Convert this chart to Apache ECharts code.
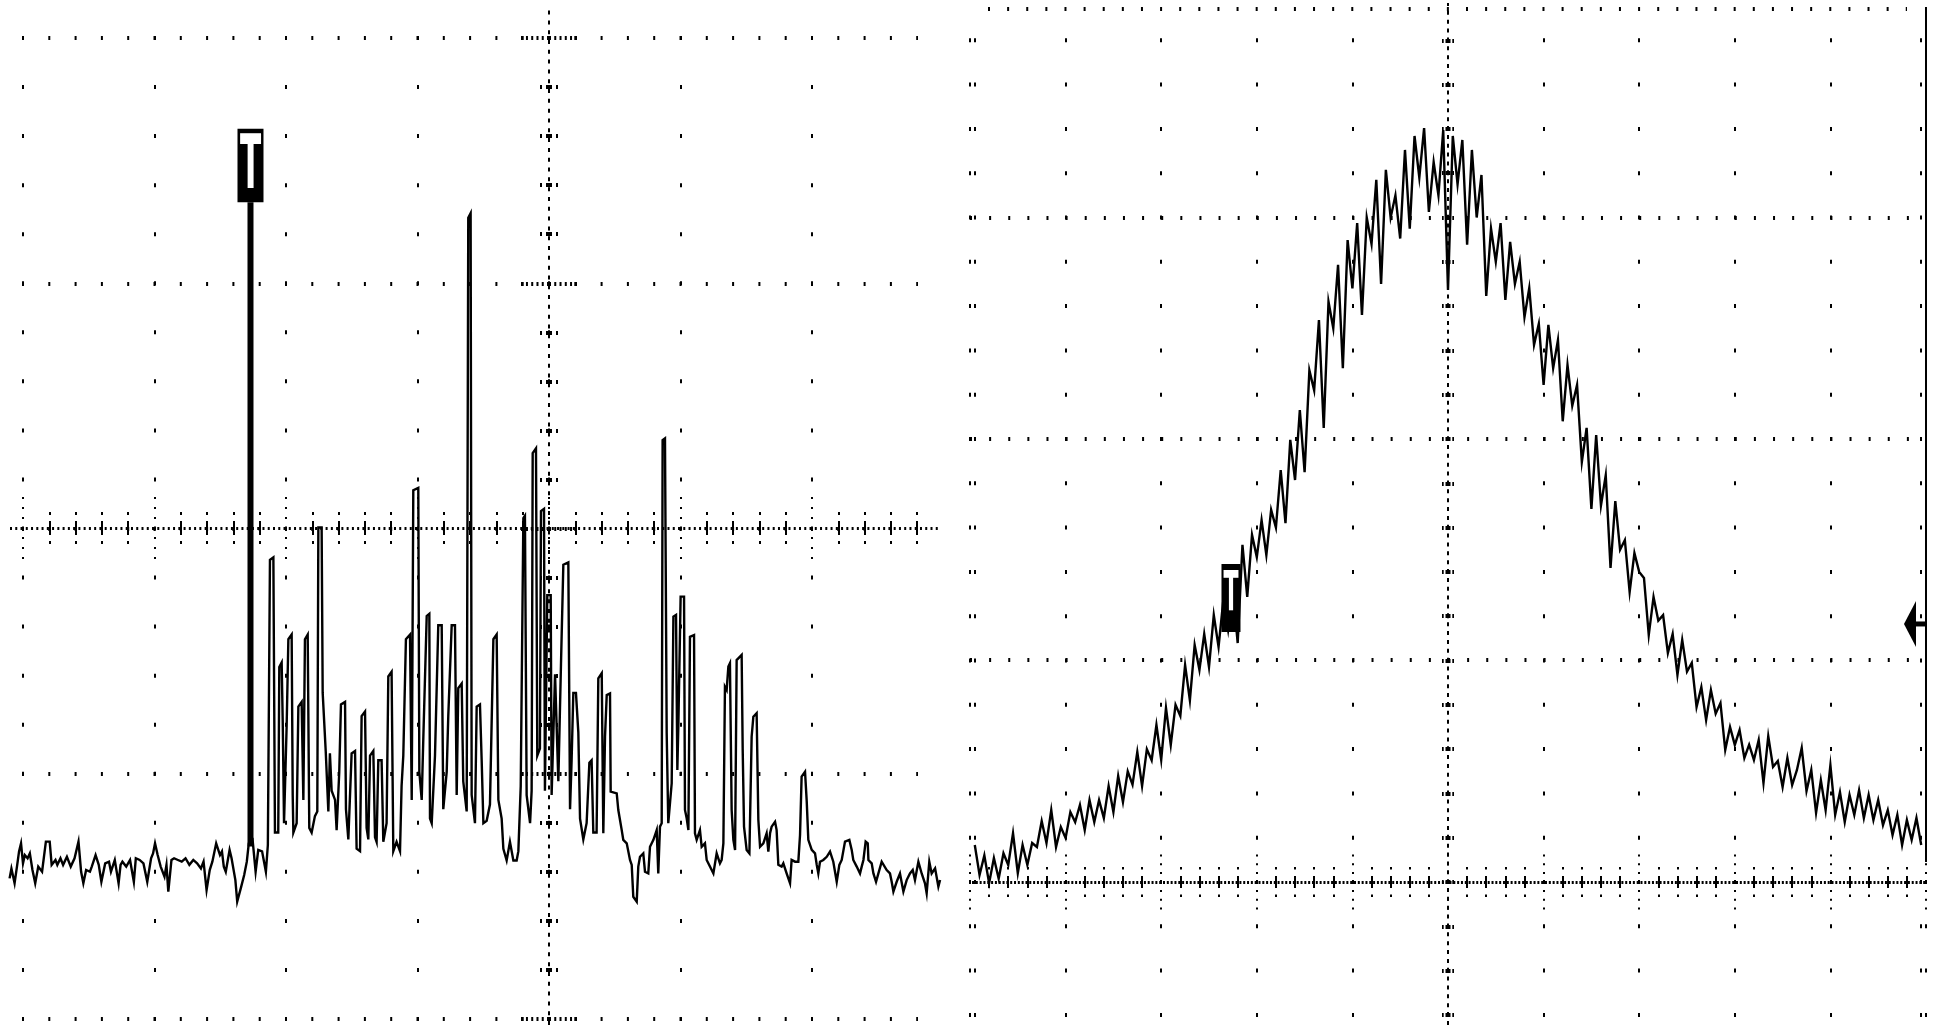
<!DOCTYPE html>
<html><head><meta charset="utf-8">
<script src="https://cdn.jsdelivr.net/npm/echarts@6/dist/echarts.min.js"></script>
<style>html,body{margin:0;padding:0;background:#fff;}#c{width:1935px;height:1025px;}</style>
</head><body><div id="c"></div>
<script>
// ---------- DATA (left channel: time in µs, amplitude in mV) ----------
const LEFT_T = [-410.2,-408.8,-406.4,-404.4,-403,-401.5,-400,-398.6,-396.5,-394.8,-392.8,-390.7,-388.4,-385.5,-382.6,-379.7,-378.2,-375.3,-373.9,-371.5,-369.5,-366.6,-363.7,-360.8,-357.8,-355.8,-354.1,-352,-349.1,-347.7,-344.8,-342.4,-340.4,-337.5,-334.6,-333.1,-330.2,-327.3,-325.8,-324.4,-321.5,-318.6,-315.7,-314.2,-311.3,-308.4,-305.5,-302.6,-301.1,-299.6,-297.6,-295.3,-292.4,-290.9,-289.5,-287.1,-285.1,-282.2,-279.3,-276.4,-273.5,-270.5,-267.6,-264.7,-262.7,-260.4,-258,-256,-253.1,-250.2,-248.7,-247.3,-245.8,-242.9,-241.4,-238.5,-237.1,-234.2,-231.8,-229.8,-228.3,-225.4,-223.1,-221.1,-218.2,-215.3,-213.8,
-212.2,-209.6,-208.4,-205.9,-205.1,-203.3,-202.5,-201.5,-199.5,-198.2,-195.7,-194.9,-194.4,-191.9,-190.6,-188.1,-186.8,-185.6,-183.5,-182.3,-180.5,-178,-176.2,-175.4,-172.9,-172.1,-171.1,-169.8,-167.8,-166.6,-165.3,-162.7,-161.5,-159.5,-158.2,-155.1,-154.4,-152.6,-150.1,-147.5,-146.3,-143.7,-142.5,-139.9,-138.7,-137.4,-136.1,-133.6,-132.3,-131.1,-129.8,-127.3,-126,-123.5,-122.2,-119.7,-118.4,-115.9,-113.3,-112.1,-110.8,-108.8,-105.7,-104.4,-103.2,-99.4,-98.6,-96.8,-95.6,-93,-91,-90.5,-89.2,-86.7,-84.2,-81.6,-80.4,-77.8,-76.6,-74,-71.5,-70.2,-69,-66.4,-65.2,-62.6,-61.4,-59.6,-58.8,-56.3,-55,-52.5,-51.2,-49.9,-47.4,-44.9,-42.3,-39.8,-38.5,-36,-34.7,-32.2,-29.7,-27.1,-24.6,-23.3,-21.5,-19.5,-18.3,-17,-14.4,-13.2,-12.4,-9.9,-8.9,-6.9,-6.1,-3.8,-3.1,-1.3,1.3,2,4.6,5.8,7.1,9.1,10.9,14.7,16,17.2,18.5,20.5,22.3,23.6,26.1,28.6,30.7,32.4,33.7,36.2,
37.5,40.1,41.3,42.6,43.9,46.4,46.9,51.5,52.7,55.3,56.5,59.1,61.6,62.9,64.1,66.7,67.9,69.2,71.7,73,75.5,76.8,79.4,81.9,83.1,84.4,85.7,86.4,88.2,89.5,90.7,93.3,94.6,96.6,97.6,98.4,100.1,102.7,103.4,104.7,106,107.2,110.3,111,112.3,114.8,116.1,118.6,119.9,122.4,125,127.5,130,131.3,132.6,133.8,135.1,136.4,137.6,138.9,140.2,141.5,142.7,146.5,147.3,148.3,150.3,152.4,154.1,155.4,157.9,159.2,160.5,163,165.5,166.8,168.1,169.3,171.9,173.1,174.4,176.9,178.2,180.7,183.3,184.5,187.1,189.6,190.9,192.1,194.7,196,197.2,199.8,202.3,203.6,204.8,206.1,208.6,211.2,213.7,216.2,218.8,220.8,222.6,225.1,228.4,230.2,231.4,234,236.5,237.8,239.1,240.8,242.4,242.9,245.4,246.7,248.7,250.5,253,254.3,256.8,259.3,260.6,261.9,264.4,266.9,269.5,272,274.5,276.6,278.3,280.9,283.4,285.9,287.2,289.2,291,293.6,296.1,297.4];
const LEFT_MV = [-143,-139,-145,-137.5,-132,-128.7,-136.9,-133.5,-134.8,-132.8,-139.6,-145,-138.2,-140.3,-128,-128,-137.5,-135.5,-137.5,-134.8,-137.5,-134.2,-138.2,-134.8,-128,-140.3,-145,-139.6,-140.3,-138.2,-133.5,-137.5,-144.4,-136.9,-136.2,-140.3,-135.5,-145,-137.5,-136.2,-138.2,-135.5,-144.4,-134.8,-135.5,-136.9,-144.4,-134.8,-132.8,-128.7,-133.5,-138.2,-142.3,-137.5,-148.4,-135.5,-134.8,-135.5,-136.2,-134.8,-137.5,-135.5,-136.9,-139,-136.2,-147.8,-139.6,-136.2,-128.7,-133.5,-132,-138.2,-140.3,-131.4,-134.8,-143.7,-152.5,-146.7,-141.6,-136.2,-128.7,-127.3,-140.3,-131.4,-132,-140.3,-129.4,
-13,-12,-124.3,-124.3,-56.8,-54.9,-78.7,-120.5,-80.6,-45.4,-43.5,-109,-124.3,-120.5,-72.9,-71,-111,-45.4,-43.5,-122.4,-124.3,-117.6,-115.7,0.2,0.2,-67.3,-67.3,-91,-115.7,-92,-107.2,-111,-123.3,-99.6,-72,-71,-114.8,-127.1,-92,-91,-130.9,-131.9,-76.8,-74.9,-122.4,-127.1,-92.9,-91,-126.2,-128.1,-94.8,-94.8,-128.1,-120.5,-60.6,-58.7,-131.9,-128.1,-131.9,-105.3,-92.9,-45.4,-43.5,-111,15.4,16.4,-99.6,-111,-86.3,-35.9,-35,-118.6,-120.5,-92.9,-39.7,-39.7,-114.8,-99.6,-76.8,-39.7,-39.7,-109,-65.4,-63.5,-103.4,-115.7,126.6,128.5,-109,-120.5,-72.9,-72,-94.8,-120.5,-119.5,-112.9,-45.4,-43.5,-111,-118.6,-130.9,-135.7,-128.1,-135.7,-135.7,-131.9,-105.3,4,5,-109,-120.5,-107.2,30.6,32.5,-92.9,-90,6.9,7.8,-107.2,-27.4,-27.4,-109,-59.7,-59.7,-103.4,-55.9,-15,-14,-114.8,-94.8,-67.3,-67.3,-83.4,-118.6,-127.1,-120.5,-95.8,-94.8,-124.3,-124.3,
-61.4,-59.3,-124.6,-85.2,-68.2,-67.5,-107.6,-108.3,-115.1,-123.3,-127.3,-128.7,-135.5,-137.5,-150.5,-152.5,-138.2,-134.2,-132.8,-140.3,-141,-130.1,-127.3,-123.3,-141,-121.9,-120.5,35.9,36.6,-83.8,-120.5,-104.2,-36.2,-35.5,-98.8,-79.7,-28,-28,-115.1,-118.5,-123.3,-44.4,-43.7,-124.6,-127.3,-123.3,-130.1,-128.7,-135.5,-138.2,-141,-132.8,-136.9,-135.5,-128.7,-64.8,-66.1,-56.6,-55.2,-115.1,-127.3,-131.4,-53.9,-51.8,-90.6,-121.9,-131.4,-132.8,-85.2,-77,-75.6,-119.2,-130.1,-128.7,-124.6,-132.1,-124.6,-121.9,-119.9,-123.3,-137.5,-138.2,-136.9,-141,-145,-135.5,-136.2,-136.2,-125.3,-101.5,-99.5,-111.7,-127.3,-131.4,-132.8,-137.5,-141,-136.2,-135.5,-134.2,-132.1,-136.2,-144.4,-137.5,-135.5,-128,-127.3,-131.4,-135.5,-138.2,-141,-138.2,-135.5,-128,-128.7,-135.5,-136.9,-141,-144.4,-141,-136.2,-135.5,-139.6,-141,-144.4,-148.4,-144.4,-141,-148.4,-143.7,-141,-139.6,-143.7,-136.2,-141,-145,-149.1,-136.2,-141,-138.9,-146.4,-143.7];

// ---------- DATA (right channel: time in µs, amplitude in mV) ----------
const RIGHT_T = [-495,-490,-485,-480,-475,-470,-465,-460,-455,-450,-445,-440,-435,-430,-425,-420,-415,-410,-405,-400,
-395,-390,-385,-380,-375,-370,-365,-360,-355,-350,-345,-340,-335,-330,-325,-320,-315,-310,-305,-300,
-295,-290,-285,-280,-275,-270,-265,-260,-255,-250,-245,-240,-235,-230,-225,-220,-215,-210,-205,-200,
-195,-190,-185,-180,-175,-170,-165,-160,-155,-150,-145,-140,-135,-130,-125,-120,-115,-110,-105,-100,
-95,-90,-85,-80,-75,-70,-65,-60,-55,-50,-45,-40,-35,-30,-25,-20,-15,-10,-5,0,
5,10,15,20,25,30,35,40,45,50,55,60,65,70,75,80,85,90,95,100,
105,110,115,120,125,130,135,140,145,150,155,160,165,170,175,180,185,190,195,200,
205,210,215,220,225,230,235,240,245,250,255,260,265,270,275,280,285,290,295,300,
305,310,315,320,325,330,335,340,345,350,355,360,365,370,375,380,385,390,395,400,
405,410,415,420,425,430,435,440,445,450,455,460,465,470,475,480,485,490,495];
const RIGHT_MV = [16.7,3.2,12,-0.5,10.8,1.5,13,7.7,22,4,
16.7,7.7,17.6,15.8,27.5,17.6,32.5,15.8,24.8,19.9,
31.6,27.1,34.8,23.5,37,27.1,37,28.9,43.3,31.6,
47.9,36.1,50,44,58.7,43.3,60,55,70.9,55.1,
78.6,61.9,80,75,98,82,107,95.7,112,97.1,
120.5,106.1,127.3,113.8,131.8,107.9,152.2,128.7,156.7,146.7,
163.4,147.6,168,160,186,162,199.6,181.5,213.1,185,
231,222,253.7,205,262,250,278.6,232,289.8,268,
297.5,256,300,288,317,270,321.5,300,310,290.5,
330.5,295,336.8,318,340.4,302.5,325,310,339.5,267.3,
336.8,315,335,287.7,330.5,300,319.2,264.6,295,280,
297.5,262.8,289,270,280,255,268.2,242.5,252,224.4,
251.5,232,244.7,208,233.4,215,224.4,189.6,205,168.4,
201.8,170,183.6,141.8,172,150,154.4,130.9,148.5,140,
137.3,111.5,128.7,118,120.5,103.4,112,93.5,109.3,95,
98.9,79,88,73.1,86.7,76,80.8,59.6,70,61.9,
68.6,56,62,55.1,64.1,44.7,65.9,52,54.6,42.9,
56,43.8,50.6,60.5,41.1,50.6,31.2,46,32.5,52.8,
30.3,40.6,27.1,39.3,30.3,41.5,28.9,39.3,28,37,
25.7,32.5,21.2,30.3,16.7,28,19,28.9,16.7];

// ---------- annotations ----------
const TRIG_T = -227;                                   // trigger position (µs)
const LEFT_TRIG = {boxTop: 163, boxBottom: 133, stemEnd: -130};   // mV
const RIGHT_TRIG = {boxTop: 143.6, boxBottom: 112.9};              // mV
const RIGHT_REF_MV = 116.5;                            // channel reference arrow

const INK = '#000';
const chart = echarts.init(document.getElementById('c'), null, {renderer: 'canvas', width: 1935, height: 1025});

const grids = [], xAxes = [], yAxes = [];
function axisBase(gi, extra) {
  return Object.assign({
    type: 'value', gridIndex: gi, min: 0, max: 1, silent: true,
    axisLine: {show: false, onZero: false}, axisTick: {show: false}, axisLabel: {show: false},
    splitLine: {show: false}, minorTick: {show: false}, minorSplitLine: {show: false}
  }, extra || {});
}
function addGrid(rect, xa, ya) {
  const gi = grids.length;
  grids.push(Object.assign({show: false, containLabel: false}, rect));
  xAxes.push(axisBase(gi, xa));
  yAxes.push(axisBase(gi, ya));
  return gi;
}
const ls = (w, dash) => ({color: INK, width: w, type: dash, cap: 'butt'});
const dotLine = (w, dash) => ({show: true, onZero: false, lineStyle: ls(w, dash)});

// ===== LEFT graticule =====
addGrid({left: 23, top: 36, width: 789, height: 985},
  {max: 6, interval: 1, splitLine: {show: true, lineStyle: ls(2, [4, 45.05])}}, {});
addGrid({left: 22, top: 38, width: 896, height: 981}, {},
  {max: 4, interval: 1, splitLine: {show: true, lineStyle: ls(4, [2, 24.3])}});
addGrid({left: 10, top: 528, width: 930, height: 100}, {position: 'top', axisLine: dotLine(3, [2, 3.26])}, {});
for (const inside of [false, true]) {
  addGrid({left: 23, top: 528, width: 789, height: 100}, {
    position: 'top', max: 30, interval: 5,
    axisTick: {show: true, inside, length: 31, lineStyle: ls(2, [0, 9, 2, 8, 2, 8, 2, 100])},
    minorTick: {show: true, splitNumber: 5, length: 16, lineStyle: ls(2, [7, 6, 3, 100])}
  }, {});
  addGrid({left: 838.3, top: 528, width: 78.9, height: 100}, {
    position: 'top', max: 3, interval: 1,
    axisTick: {show: true, inside, length: 16, lineStyle: ls(2, [7, 6, 3, 100])}
  }, {});
}
addGrid({left: 549, top: 6.6, width: 100, height: 1018.4}, {}, {position: 'left', axisLine: dotLine(2, [4, 5.81])});
for (const inside of [false, true]) {
  addGrid({left: 549, top: 38, width: 100, height: 981}, {}, {
    position: 'left', max: 20, interval: 5,
    axisTick: {show: true, inside, length: 28, lineStyle: ls(4, [2, 3.26])},
    minorTick: {show: true, splitNumber: 5, length: 9, lineStyle: ls(4, [3, 4, 2, 100])}
  });
}

// ===== RIGHT graticule =====
addGrid({left: 970, top: 38.3, width: 956, height: 978.6},
  {max: 10, interval: 1, splitLine: {show: true, lineStyle: ls(2, [4, 40.3])}}, {});
addGrid({left: 975, top: 38.3, width: 946, height: 978.6},
  {max: 1, interval: 1, splitLine: {show: true, lineStyle: ls(2, [4, 40.3])}}, {});
addGrid({left: 970, top: 218, width: 956, height: 442}, {},
  {max: 2, interval: 1, splitLine: {show: true, lineStyle: ls(4, [2, 17.12])}});
addGrid({left: 988, top: 9, width: 919, height: 100}, {position: 'top', axisLine: dotLine(4, [2, 17.12])}, {});
addGrid({left: 972, top: 882, width: 954, height: 100}, {position: 'top', axisLine: dotLine(3, [2, 1.82])}, {});
for (const inside of [false, true]) {
  addGrid({left: 970, top: 882, width: 956, height: 100}, {
    position: 'top', max: 50, interval: 5,
    axisTick: {show: true, inside, length: 28, lineStyle: ls(2, [0, 7.9, 2, 6.86, 2, 6.86, 2, 100])},
    minorTick: {show: true, splitNumber: 5, length: 15, lineStyle: ls(2, [6, 6.5, 3, 100])}
  }, {});
}
addGrid({left: 1448, top: 2.9, width: 100, height: 1022}, {}, {position: 'left', axisLine: dotLine(2, [4, 4.86])});
for (const inside of [false, true]) {
  addGrid({left: 1448, top: 40.3, width: 100, height: 974.6}, {}, {
    position: 'left', max: 22, interval: 1,
    axisTick: {show: true, inside, length: 6, lineStyle: ls(4, [2.5, 1.8, 1.7, 100])}
  });
}
// right border
addGrid({left: 970, top: 7, width: 956, height: 855}, {},
  {position: 'right', axisLine: {show: true, onZero: false, lineStyle: {color: INK, width: 2, cap: 'butt'}}});

// ===== data grids =====
const gL = addGrid({left: 9.85, top: 38, width: 933.65, height: 980}, {min: -410, max: 300}, {min: -200, max: 200});
const gR = addGrid({left: 970, top: 0.43, width: 956, height: 1014.5}, {min: -500, max: 500}, {min: -60, max: 398});

const traceStyle = {color: INK, width: 2.4, join: 'miter'};
chart.setOption({
  animation: false,
  backgroundColor: '#fff',
  grid: grids, xAxis: xAxes, yAxis: yAxes,
  series: [
    {type: 'line', name: 'CH1', xAxisIndex: gL, yAxisIndex: gL, data: LEFT_T.map((t, i) => [t, LEFT_MV[i]]),
      symbol: 'none', lineStyle: traceStyle, silent: true, clip: false, z: 5},
    {type: 'line', name: 'CH2', xAxisIndex: gR, yAxisIndex: gR, data: RIGHT_T.map((t, i) => [t, RIGHT_MV[i]]),
      symbol: 'none', lineStyle: traceStyle, silent: true, clip: false, z: 5}
  ]
});

// ===== trigger markers & reference arrow (positioned from data coordinates) =====
const px = (gi, t, v) => chart.convertToPixel({xAxisIndex: gi, yAxisIndex: gi}, [t, v]);
const g = [];
(function () {
  const a = px(gL, TRIG_T, LEFT_TRIG.boxTop), b = px(gL, TRIG_T, LEFT_TRIG.boxBottom), c = px(gL, TRIG_T, LEFT_TRIG.stemEnd);
  g.push({type: 'rect', shape: {x: a[0] - 3, y: b[1], width: 6, height: c[1] - b[1]}, style: {fill: INK}, z: 100});
  g.push({type: 'rect', shape: {x: a[0] - 13, y: a[1], width: 26, height: b[1] - a[1]}, style: {fill: INK}, z: 100});
  g.push({type: 'text', x: a[0], y: (a[1] + b[1]) / 2 + 3, scaleX: 0.42, z: 101,
    style: {text: 'T', fill: '#fff', font: 'bold 74px "DejaVu Sans"', align: 'center', verticalAlign: 'middle'}});
  const d = px(gR, TRIG_T, RIGHT_TRIG.boxTop), e = px(gR, TRIG_T, RIGHT_TRIG.boxBottom);
  g.push({type: 'rect', shape: {x: d[0] - 9.5, y: d[1], width: 19, height: e[1] - d[1]}, style: {fill: INK}, z: 100});
  g.push({type: 'text', x: d[0], y: (d[1] + e[1]) / 2 - 2, scaleX: 0.4, z: 101,
    style: {text: 'T', fill: '#fff', font: 'bold 55px "DejaVu Sans"', align: 'center', verticalAlign: 'middle'}});
  const r = px(gR, 500, RIGHT_REF_MV);
  g.push({type: 'polygon', shape: {points: [[r[0] - 22, r[1]], [r[0] - 10, r[1] - 23], [r[0] - 10, r[1] + 23]]}, style: {fill: INK}, z: 100});
  g.push({type: 'rect', shape: {x: r[0] - 11, y: r[1] - 2.5, width: 11, height: 5}, style: {fill: INK}, z: 100});
})();
chart.setOption({graphic: g});
</script>
</body></html>
